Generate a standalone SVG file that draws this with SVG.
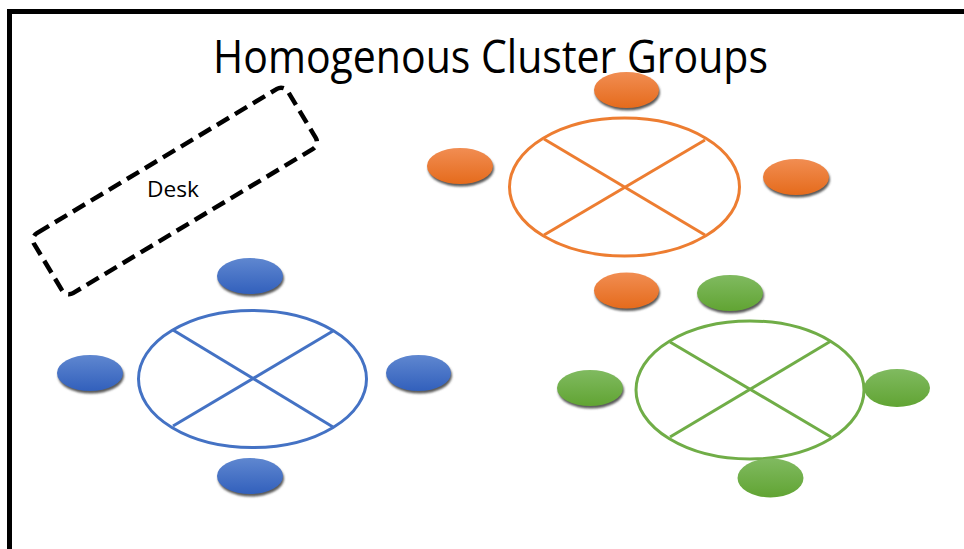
<svg xmlns="http://www.w3.org/2000/svg" width="964" height="549" viewBox="0 0 964 549">
<defs>
<linearGradient id="gO" x1="0" y1="0" x2="0" y2="1"><stop offset="0" stop-color="#F18D52"/><stop offset="1" stop-color="#E56B1C"/></linearGradient>
<linearGradient id="gB" x1="0" y1="0" x2="0" y2="1"><stop offset="0" stop-color="#5F87D0"/><stop offset="1" stop-color="#3260BC"/></linearGradient>
<linearGradient id="gG" x1="0" y1="0" x2="0" y2="1"><stop offset="0" stop-color="#80BA60"/><stop offset="1" stop-color="#61A433"/></linearGradient>
<filter id="blur" x="-20%" y="-20%" width="140%" height="140%"><feGaussianBlur stdDeviation="0.8"/></filter>
</defs>
<style>
.frame{stroke:#000;stroke-width:5;fill:none}
.title{font-family:"Open Sans","Liberation Sans",sans-serif;font-size:45px;fill:#000}
.lbl{font-family:"Open Sans","Liberation Sans",sans-serif;font-size:21px;fill:#000}
.desk{fill:none;stroke:#000;stroke-width:4.5;stroke-dasharray:14 7}
.tbl{fill:#fff;stroke-width:3}
.x{stroke-width:3;fill:none}
.o{stroke:#ED7D31}
.b{stroke:#4472C4}
.g{stroke:#70AD47}
.sh{fill:#5A5A5A;filter:url(#blur)}
.co{fill:url(#gO)}
.cb{fill:url(#gB)}
.cg{fill:url(#gG)}
</style>
<rect width="964" height="549" fill="#fff"/>
<g id="frame">
<line class="frame" x1="7" y1="11.5" x2="964" y2="11.5"/>
<line class="frame" x1="9.5" y1="9" x2="9.5" y2="549"/>
</g>
<text id="title" class="title" x="213" y="73" textLength="555" lengthAdjust="spacingAndGlyphs">Homogenous Cluster Groups</text>
<g id="desk">
<rect class="desk" x="-148" y="-35" width="296" height="70" rx="8" transform="translate(175 191) rotate(-31)"/>
<text class="lbl" x="173" y="197" text-anchor="middle" textLength="52" lengthAdjust="spacingAndGlyphs">Desk</text>
</g>
<g id="orange-table">
<ellipse class="tbl o" cx="624.5" cy="187" rx="115" ry="69"/>
<g class="x o"><line x1="544" y1="139" x2="705" y2="235"/><line x1="705" y1="140" x2="544" y2="235"/></g>
</g>
<g id="orange-chairs">
<ellipse class="sh" cx="627.5" cy="92.5" rx="32.5" ry="18"/><ellipse class="co" cx="626.5" cy="90" rx="32.5" ry="18"/>
<ellipse class="sh" cx="461" cy="168.5" rx="33" ry="18"/><ellipse class="co" cx="460" cy="166" rx="33" ry="18"/>
<ellipse class="sh" cx="797" cy="179.5" rx="33" ry="18"/><ellipse class="co" cx="796" cy="177" rx="33" ry="18"/>
<ellipse class="sh" cx="627.5" cy="293" rx="32.5" ry="18"/><ellipse class="co" cx="626.5" cy="290.5" rx="32.5" ry="18"/>
</g>
<g id="blue-table">
<ellipse class="tbl b" cx="252.5" cy="379" rx="114" ry="68.5"/>
<g class="x b"><line x1="173" y1="330" x2="333" y2="427"/><line x1="333" y1="331" x2="173" y2="426"/></g>
</g>
<g id="blue-chairs">
<ellipse class="sh" cx="251" cy="278.5" rx="33" ry="18"/><ellipse class="cb" cx="250" cy="276" rx="33" ry="18"/>
<ellipse class="sh" cx="91" cy="375.5" rx="33" ry="18"/><ellipse class="cb" cx="90" cy="373" rx="33" ry="18"/>
<ellipse class="sh" cx="419.5" cy="375.5" rx="32.5" ry="18"/><ellipse class="cb" cx="418.5" cy="373" rx="32.5" ry="18"/>
<ellipse class="sh" cx="251" cy="478.5" rx="33" ry="18"/><ellipse class="cb" cx="250" cy="476" rx="33" ry="18"/>
</g>
<g id="green-table">
<ellipse class="tbl g" cx="750" cy="390" rx="114" ry="69"/>
<g class="x g"><line x1="670" y1="342" x2="831" y2="437"/><line x1="831" y1="341" x2="670" y2="437"/></g>
</g>
<g id="green-chairs">
<ellipse class="sh" cx="731" cy="295.5" rx="33" ry="18"/><ellipse class="cg" cx="730" cy="293" rx="33" ry="18"/>
<ellipse class="sh" cx="591" cy="390.5" rx="33" ry="18"/><ellipse class="cg" cx="590" cy="388" rx="33" ry="18"/>
<ellipse class="cg" cx="897" cy="388" rx="33" ry="19"/>
<ellipse class="cg" cx="770.5" cy="478" rx="33" ry="19.5"/>
</g>
</svg>
